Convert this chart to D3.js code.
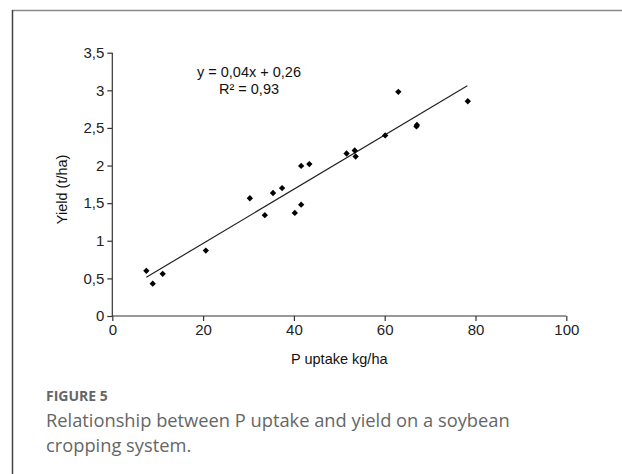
<!DOCTYPE html>
<html><head><meta charset="utf-8">
<script src="https://cdn.jsdelivr.net/npm/d3@7"></script>
<style>
html,body{margin:0;padding:0;background:#fff;}
svg{display:block;}
</style></head>
<body>
<script>
const pUptake = [7.5, 8.9, 11.1, 20.6, 30.3, 33.6, 35.4, 37.4, 40.2, 41.6, 41.6, 43.4, 51.6, 53.4, 53.6, 60.1, 63.0, 67.0, 67.1, 78.3];
const yieldVals = [0.60, 0.43, 0.56, 0.87, 1.565, 1.34, 1.635, 1.70, 1.37, 1.48, 1.995, 2.02, 2.16, 2.20, 2.12, 2.40, 2.98, 2.52, 2.54, 2.855];
const trendSlope = 0.036, trendIntercept = 0.245;
const trendX = [7.5, 78.2];
const xTicks = [0, 20, 40, 60, 80, 100];
const yTicks = [0, 0.5, 1, 1.5, 2, 2.5, 3, 3.5];
const eqLines = ["y = 0,04x + 0,26", "R² = 0,93"];
const xTitle = "P uptake kg/ha", yTitle = "Yield (t/ha)";
const figLabel = "FIGURE 5";
const captionLines = ["Relationship between P uptake and yield on a soybean", "cropping system."];

const W = 622, H = 474;
const svg = d3.select("body").append("svg").attr("width", W).attr("height", H);

// frame
svg.append("line").attr("x1", 12).attr("x2", W).attr("y1", 10.5).attr("y2", 10.5).attr("stroke", "#8a8a8a").attr("stroke-width", 1.5);
svg.append("line").attr("x1", 12.5).attr("x2", 12.5).attr("y1", 10).attr("y2", H).attr("stroke", "#444").attr("stroke-width", 1.5);

const x = d3.scaleLinear().domain([0, 100]).range([112.3, 566.3]);
const y = d3.scaleLinear().domain([0, 3.5]).range([316, 52.7]);
const fmt = d => String(d).replace(".", ",");
const font = "'Liberation Sans', Arial, sans-serif";

const gx = svg.append("g").attr("transform", `translate(0,${y(0)})`)
  .call(d3.axisBottom(x).tickValues(xTicks).tickSize(5).tickPadding(3).tickFormat(fmt));
const gy = svg.append("g").attr("transform", `translate(${x(0)},0)`)
  .call(d3.axisLeft(y).tickValues(yTicks).tickSize(5).tickPadding(3).tickFormat(fmt));
[gx, gy].forEach(g => {
  g.attr("font-size", null).attr("font-family", null);
  g.select(".domain").attr("stroke", "#333").attr("stroke-width", 1.2);
  g.selectAll(".tick line").attr("stroke", "#333").attr("stroke-width", 1.2);
  g.selectAll(".tick text").attr("fill", "#222").style("font-family", font).style("font-size", "15px");
});
gx.select(".domain").attr("d", `M${x(0)},0H${x(100)}`);
gy.select(".domain").attr("d", `M0,${y(0)}V${y(3.5)}`);

// trend line
svg.append("line")
  .attr("x1", x(trendX[0])).attr("y1", y(trendSlope * trendX[0] + trendIntercept))
  .attr("x2", x(trendX[1])).attr("y2", y(trendSlope * trendX[1] + trendIntercept))
  .attr("stroke", "#222").attr("stroke-width", 1.2);

// points (rotated squares = diamonds)
const sym = d3.symbol().type(d3.symbolSquare).size(20);
svg.append("g").selectAll("path").data(pUptake.map((v, i) => [v, yieldVals[i]]))
  .join("path").attr("d", sym)
  .attr("transform", d => `translate(${x(d[0])},${y(d[1])}) rotate(45)`)
  .attr("fill", "#000");

// equation
svg.append("g").selectAll("text").data(eqLines).join("text")
  .attr("x", 249).attr("y", (d, i) => 77 + i * 16.5)
  .attr("text-anchor", "middle").style("font-family", font).style("font-size", "14.5px").attr("fill", "#111")
  .text(d => d);

// axis titles
svg.append("text").attr("x", (x(0) + x(100)) / 2).attr("y", 364).attr("text-anchor", "middle")
  .style("font-family", font).style("font-size", "14.5px").attr("fill", "#111").text(xTitle);
svg.append("text").attr("transform", `translate(67,${(y(0) + y(3.5)) / 2 + 5}) rotate(-90)`).attr("text-anchor", "middle")
  .style("font-family", font).style("font-size", "14.5px").attr("fill", "#111").text(yTitle);

// caption
svg.append("text").attr("x", 46).attr("y", 401).style("font-family", "'Open Sans', sans-serif").style("font-size", "14px")
  .style("font-weight", 700).attr("fill", "#666").text(figLabel);
svg.append("g").selectAll("text").data(captionLines).join("text")
  .attr("x", 46).attr("y", (d, i) => 427 + i * 25)
  .style("font-family", "'Open Sans', sans-serif").style("font-size", "18.3px").style("font-weight", 400).attr("fill", "#666")
  .text(d => d);
</script>
</body></html>
